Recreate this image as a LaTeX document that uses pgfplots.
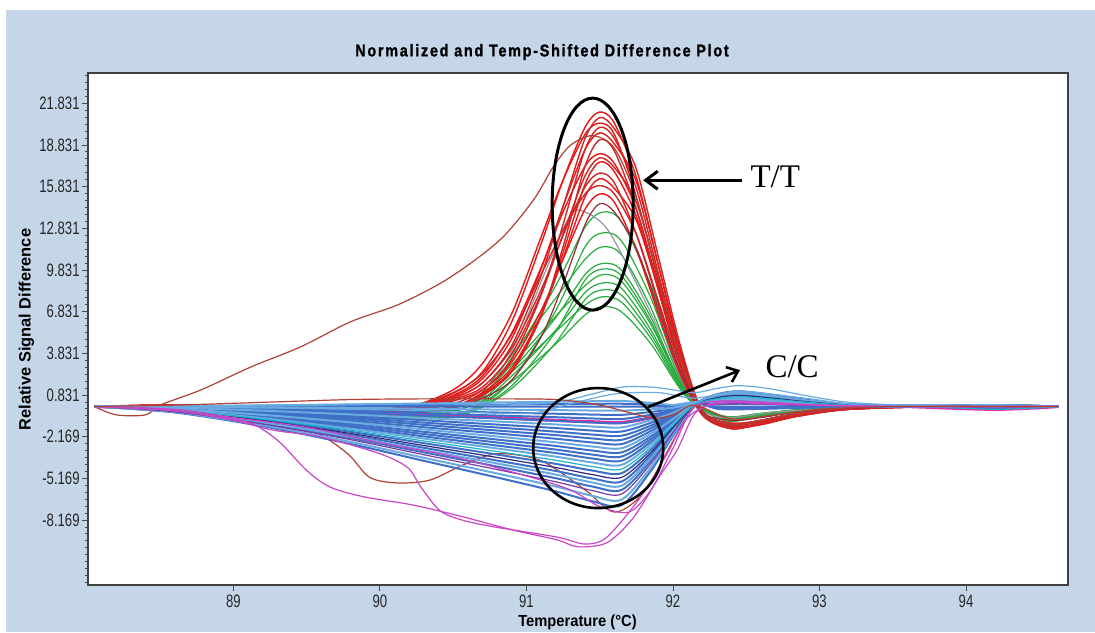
\documentclass[border=0pt]{standalone}
\usepackage{fontspec}
\usepackage{pgfplots}
\pgfplotsset{compat=1.18}
\usepackage{pgfplotstable}
\usetikzlibrary{arrows.meta}

\newfontfamily\narrowfont[FakeStretch=0.73]{Liberation Sans}
\newfontfamily\titlefont[FakeStretch=0.85,LetterSpace=10,BoldFeatures={FakeBold=1.2}]{Liberation Sans}
\newfontfamily\labelfont{Liberation Sans}
\newfontfamily\xlabfont[FakeStretch=0.92]{Liberation Sans}
\newfontfamily\annfont{Liberation Serif}

\definecolor{panel}{RGB}{196,214,232}
\definecolor{tred}{RGB}{234,22,22}
\definecolor{tred2}{RGB}{208,38,38}
\definecolor{dred}{RGB}{150,45,60}
\definecolor{hgreen}{RGB}{40,170,60}
\definecolor{cblue}{RGB}{62,112,200}
\definecolor{lblue}{RGB}{105,170,225}
\definecolor{navy}{RGB}{45,40,120}
\definecolor{purp}{RGB}{120,60,160}
\definecolor{cyanx}{RGB}{30,180,200}
\definecolor{magx}{RGB}{200,70,200}
\definecolor{brownx}{RGB}{175,65,55}
\definecolor{pinkx}{RGB}{235,40,160}
\definecolor{grayx}{RGB}{150,150,165}

\pgfplotsset{
  curve/.style={line width=0.6pt, smooth, mark=none},
  band/.style={line width=1.0pt, smooth, mark=none},
}

% T/T samples (red)
\pgfplotstableread{
x r1 r2 r3 r4 r5 r6 r7 r8 r9 r10 r11 r12 r13 r14
88.05 0 0 0 0 0 0 0 0 0 0 0 0 0 0
88.6 0.0 0.1 -0.1 0.0 0.1 -0.1 0.0 0.1 0.0 -0.1 0.1 0.0 -0.1 0.0
89.2 -0.2 -0.1 -0.3 -0.4 0.0 -0.5 -0.2 -0.1 -0.3 -0.2 -0.4 -0.1 -0.3 -0.4
89.8 -0.3 -0.4 -0.2 -0.6 -0.2 -0.8 -0.3 -0.5 -0.7 -0.4 -0.6 -0.3 -0.5 -0.7
90.2 -0.1 -0.2 0.0 -0.3 -0.2 -0.5 -0.1 -0.3 -0.5 -0.2 -0.4 0.0 -0.3 -0.5
90.5 0.95 0.6 1.2 0.2 0.7 -0.1 0.8 0.5 0.0 0.6 0.0 1.0 0.4 -0.1
90.7 2.5 1.7 3.1 1.2 2.0 0.8 2.2 1.4 0.9 1.7 1.0 2.4 1.2 0.6
90.9 6.1 4.4 6.7 3.4 4.9 2.5 5.3 3.8 2.6 4.2 2.8 5.2 3.2 1.9
91.1 11.7 9.4 12.2 8.0 9.9 6.5 10.0 8.1 6.5 8.4 6.6 9.5 6.9 5.0
91.25 16.3 14.4 16.3 13.1 14.4 11.5 14.0 12.4 11.1 12.3 10.7 12.7 10.6 8.8
91.4 20.1 19.3 19.6 18.5 18.5 17.3 17.3 16.6 16.0 15.8 15.1 15.3 14.2 13.1
91.5 21.2 20.8 20.4 20.1 19.7 19.2 18.2 17.9 17.6 16.8 16.4 15.9 15.3 14.6
91.6 20.4 20.0 19.6 19.3 18.9 18.4 17.5 17.2 16.9 16.1 15.7 15.3 14.7 14.0
91.75 16.5 17.1 15.1 15.7 16.2 14.2 14.2 14.7 13.7 12.4 13.4 12.4 11.3 11.4
91.9 10.2 10.8 9.0 9.6 10.2 8.4 8.7 9.3 8.4 7.4 8.5 7.6 6.7 7.0
92.05 3.8 4.4 3.1 3.6 4.1 2.9 3.3 3.8 3.2 2.5 3.4 2.9 2.3 2.6
92.2 -0.5 -0.3 -0.6 -0.4 -0.3 -0.6 -0.4 -0.3 -0.5 -0.6 -0.3 -0.4 -0.5 -0.4
92.4 -1.6 -1.5 -1.4 -1.3 -1.5 -1.6 -1.2 -1.4 -1.3 -1.4 -1.5 -1.2 -1.3 -1.0
92.6 -1.2 -1.2 -1.0 -1.1 -1.3 -1.2 -1.0 -1.2 -1.1 -1.0 -1.3 -1.0 -1.0 -0.8
92.85 -0.6 -0.7 -0.5 -0.6 -0.7 -0.5 -0.5 -0.6 -0.6 -0.5 -0.7 -0.5 -0.5 -0.4
93.2 -0.2 -0.2 -0.1 -0.2 -0.2 -0.1 -0.1 -0.2 -0.1 -0.1 -0.2 -0.1 -0.1 -0.1
93.8 0 0 0 0 0 0 0 0 0 0 0 0 0 0
94.3 0 0.1 0 0 0.1 0 0 0 0 0 0 0 0 0
94.63 0 0 0 0 0 0 0 0 0 0 0 0 0 0
}\redtab

% intermediate group (green)
\pgfplotstableread{
x g1 g2 g3 g4 g5 g6 g7 g8 g9 g10
88.05 0 0 0 0 0 0 0 0 0 0
88.6 0.0 -0.1 0.0 0.0 -0.1 0.0 0.0 -0.1 0.0 0.0
89.2 -0.3 -0.4 -0.2 -0.3 -0.5 -0.2 -0.3 -0.4 -0.2 -0.3
89.8 -0.5 -0.7 -0.4 -0.6 -0.8 -0.3 -0.5 -0.7 -0.4 -0.6
90.3 -0.6 -0.8 -0.4 -0.7 -0.9 -0.3 -0.6 -0.8 -0.4 -0.7
90.6 -0.4 -0.5 0.0 -0.4 -0.5 0.0 -0.4 -0.5 0.0 -0.4
90.9 3.5 1.9 3.7 2.6 1.5 3.0 2.2 1.3 2.5 1.8
91.2 8.7 6.9 7.8 6.4 5.4 6.5 5.5 4.6 5.4 4.5
91.4 12.9 11.5 10.6 9.5 9.1 8.7 8.2 7.7 7.3 6.6
91.52 14.0 12.5 11.5 10.3 9.9 9.5 8.9 8.4 7.9 7.2
91.65 13.3 11.9 10.9 9.8 9.4 9.0 8.5 8.0 7.5 6.8
91.85 8.7 7.8 7.1 6.4 6.1 5.9 5.5 5.2 4.9 4.5
92.1 1.1 1.0 0.9 0.8 0.8 0.8 0.7 0.7 0.6 0.6
92.35 -0.9 -1.0 -0.8 -0.9 -1.0 -0.7 -0.8 -0.9 -0.7 -0.8
92.6 -0.6 -0.7 -0.5 -0.6 -0.7 -0.5 -0.6 -0.6 -0.5 -0.6
92.9 -0.3 -0.3 -0.2 -0.3 -0.3 -0.2 -0.3 -0.3 -0.2 -0.3
93.3 -0.1 -0.1 -0.1 -0.1 -0.1 0 -0.1 -0.1 0 -0.1
93.8 0 0 0 0 0 0 0 0 0 0
94.3 0 0 0 0 0 0 0 0 0 0
94.63 0 0 0 0 0 0 0 0 0 0
}\greentab

% C/C samples (blue band)
\pgfplotstableread{
x b1 b2 b3 b4 b5 b6 b7 b8 b9 b10 b11 b12 b13 b14 b15 b16 b17 b18 b19 b20 b21 b22 b23 b24 b25 b26
88.05 0 0 0 0 0 0 0 0 0 0 0 0 0 0 0 0 0 0 0 0 0 0 0 0 0 0
88.6 0.02 0.01 0 -0.02 -0.04 -0.05 -0.07 -0.09 -0.11 -0.13 -0.14 -0.16 -0.18 -0.2 -0.22 -0.23 -0.25 -0.27 -0.29 -0.31 -0.32 -0.34 -0.36 -0.38 -0.4 -0.43
89.2 0.08 0.04 0 -0.06 -0.12 -0.18 -0.24 -0.3 -0.36 -0.42 -0.48 -0.54 -0.6 -0.66 -0.72 -0.78 -0.84 -0.9 -0.96 -1.02 -1.08 -1.14 -1.2 -1.26 -1.34 -1.42
89.8 0.15 0.08 0 -0.11 -0.23 -0.34 -0.46 -0.57 -0.68 -0.8 -0.91 -1.03 -1.14 -1.25 -1.37 -1.48 -1.6 -1.71 -1.82 -1.94 -2.05 -2.17 -2.28 -2.39 -2.55 -2.7
90.3 0.22 0.11 0 -0.17 -0.33 -0.5 -0.66 -0.83 -0.99 -1.16 -1.32 -1.49 -1.65 -1.82 -1.98 -2.15 -2.31 -2.48 -2.64 -2.81 -2.97 -3.14 -3.3 -3.47 -3.69 -3.91
90.8 0.29 0.14 0 -0.22 -0.43 -0.65 -0.86 -1.08 -1.3 -1.51 -1.73 -1.94 -2.16 -2.38 -2.59 -2.81 -3.02 -3.24 -3.46 -3.67 -3.89 -4.1 -4.32 -4.54 -4.82 -5.11
91.2 0.34 0.17 0 -0.26 -0.52 -0.77 -1.03 -1.29 -1.55 -1.81 -2.06 -2.32 -2.58 -2.84 -3.1 -3.35 -3.61 -3.87 -4.13 -4.39 -4.64 -4.9 -5.16 -5.42 -5.76 -6.11
91.45 0.38 0.19 0 -0.29 -0.58 -0.86 -1.15 -1.44 -1.73 -2.02 -2.3 -2.59 -2.88 -3.17 -3.46 -3.74 -4.03 -4.32 -4.61 -4.9 -5.18 -5.47 -5.76 -6.05 -6.43 -6.82
91.65 0.4 0.2 0 -0.3 -0.6 -0.9 -1.2 -1.5 -1.8 -2.1 -2.4 -2.7 -3.0 -3.3 -3.6 -3.9 -4.2 -4.5 -4.8 -5.1 -5.4 -5.7 -6.0 -6.3 -6.7 -7.1
91.85 0.26 0.13 0 -0.2 -0.39 -0.59 -0.78 -0.98 -1.17 -1.37 -1.56 -1.76 -1.95 -2.15 -2.34 -2.54 -2.73 -2.93 -3.12 -3.32 -3.51 -3.71 -3.9 -4.1 -4.36 -4.62
92.0 0.12 0.06 0 -0.09 -0.18 -0.27 -0.36 -0.45 -0.54 -0.63 -0.72 -0.81 -0.9 -0.99 -1.08 -1.17 -1.26 -1.35 -1.44 -1.53 -1.62 -1.71 -1.8 -1.89 -2.01 -2.13
92.15 0.32 0.31 0.3 0.29 0.28 0.26 0.25 0.24 0.23 0.22 0.2 0.19 0.18 0.17 0.16 0.14 0.13 0.12 0.11 0.1 0.08 0.07 0.06 0.05 0.03 0.02
92.3 0.24 0.48 -0.16 0.72 0.4 0.8 0.16 0.56 0.88 0.32 0.64 0 0.48 0.8 0.24 0.72 0.4 0.56 -0.08 0.64 0.32 0.8 0.48 0.16 0.72 0.4
92.45 0.3 0.6 -0.2 0.9 0.5 1.0 0.2 0.7 1.1 0.4 0.8 0 0.6 1.0 0.3 0.9 0.5 0.7 -0.1 0.8 0.4 1.0 0.6 0.2 0.9 0.5
92.65 0.24 0.48 -0.16 0.72 0.4 0.8 0.16 0.56 0.88 0.32 0.64 0 0.48 0.8 0.24 0.72 0.4 0.56 -0.08 0.64 0.32 0.8 0.48 0.16 0.72 0.4
92.9 0.14 0.27 -0.09 0.41 0.23 0.45 0.09 0.32 0.5 0.18 0.36 0 0.27 0.45 0.14 0.41 0.23 0.32 -0.05 0.36 0.18 0.45 0.27 0.09 0.41 0.23
93.2 0.05 0.09 -0.03 0.14 0.08 0.15 0.03 0.11 0.17 0.06 0.12 0 0.09 0.15 0.05 0.14 0.08 0.11 -0.02 0.12 0.06 0.15 0.09 0.03 0.14 0.08
93.6 0.05 0.05 0 0.05 0.05 0.05 0 0.05 0.05 0 0.05 0 0.05 0.05 0 0.05 0 0.05 0 0.05 0 0.05 0.05 0 0.05 0
94.2 0 0 0 0.1 0 -0.1 0 0 0.1 0 0 -0.1 0 0 0 0.1 0 -0.2 0 0 0.1 0 0 -0.1 0 0
94.63 0 0 0 0 0 0 0 0 0 0 0 0 0 0 0 0 0 0 0 0 0 0 0 0 0 0
}\bluetab

\begin{document}
\begin{tikzpicture}
\useasboundingbox (0pt,0pt) rectangle (547.5pt,316pt);
\fill[white] (0pt,0pt) rectangle (547.5pt,316pt);
\fill[panel] (3pt,0pt) rectangle (547.5pt,311pt);

\begin{axis}[
  at={(44pt,23.5pt)}, anchor=south west,
  scale only axis, width=490pt, height=256pt,
  xmin=88.008, xmax=94.696, ymin=-12.85, ymax=24.01,
  axis background/.style={fill=white},
  axis line style={draw=black!75, line width=0.6pt},
  tick pos=left, tick align=outside,
  major tick length=3pt, minor tick length=1.6pt,
  tick style={black!70, line width=0.4pt},
  xtick={89,90,91,92,93,94},
  xticklabels={89,90,91,92,93,94},
  ytick={-8.169,-5.169,-2.169,0.831,3.831,6.831,9.831,12.831,15.831,18.831,21.831},
  yticklabels={-8.169,-5.169,-2.169,0.831,3.831,6.831,9.831,12.831,15.831,18.831,21.831},
  minor ytick={-12.669,-12.169,...,23.831},
  tick label style={font=\narrowfont\fontsize{9}{10}\selectfont, text=black!85},
  xticklabel style={yshift=1.5pt},
  yticklabel style={inner xsep=1pt},
]

\pgfplotsinvokeforeach{g1,g2,g3,g4,g5,g6,g7,g8,g9,g10}{
  \addplot[curve, hgreen] table[x=x, y=#1] {\greentab};
}
\addplot[curve, grayx, smooth=false] coordinates {(88.05,0) (89.0,-0.2) (90.0,-0.5) (90.6,-0.3) (90.9,4.0) (91.14,10.0) (91.3,13.8) (91.4,14.0) (91.55,12.8) (91.73,9.3) (91.95,4.5) (92.15,0.2) (92.35,-0.8) (92.7,-0.4) (93.2,-0.1) (93.8,0) (94.63,0)};
\pgfplotsinvokeforeach{r1,r3,r5,r7,r9,r11,r13}{
  \addplot[curve, tred, line width=0.7pt] table[x=x, y=#1] {\redtab};
}
\pgfplotsinvokeforeach{r2,r4,r6,r8,r10,r12}{
  \addplot[curve, tred2, line width=0.7pt] table[x=x, y=#1] {\redtab};
}
\addplot[curve, dred] table[x=x, y=r14] {\redtab};
% outlier rising early
\addplot[curve, brownx] coordinates {(88.05,0) (88.2,-0.6) (88.4,-0.6) (88.5,0.1) (88.78,1.2) (89.12,2.85) (89.46,4.3) (89.8,6.1) (90.14,7.4) (90.48,9.3) (90.82,12.0) (91.05,14.9) (91.18,17.2) (91.3,18.8) (91.45,19.5) (91.6,18.6) (91.75,15.0) (91.9,9.2) (92.05,3.4) (92.2,-0.4) (92.4,-1.3) (92.6,-1.0) (92.85,-0.5) (93.2,-0.1) (93.8,0) (94.63,0)};
% curves mostly hidden inside the band
\addplot[curve, pinkx, line width=1.6pt] coordinates {(88.05,0) (88.6,-0.15) (89.2,-0.3) (89.8,-0.45) (90.3,-0.6) (90.8,-0.8) (91.2,-1.0) (91.45,-1.1) (91.65,-1.15) (91.85,-0.8) (92.0,-0.3) (92.15,0.2) (92.45,0.5) (92.9,0.2) (93.6,0) (94.2,-0.2) (94.63,0)};
\addplot[curve, brownx] coordinates {(88.05,0) (88.6,-0.2) (89.2,-0.8) (89.55,-1.8) (89.78,-3.4) (89.93,-5.1) (90.12,-5.5) (90.34,-5.3) (90.57,-4.2) (90.8,-3.4) (91.1,-3.9) (91.4,-6.0) (91.6,-7.6) (91.8,-6.2) (92.0,-2.5) (92.15,0) (92.4,0.4) (92.8,0.2) (93.4,0) (94.63,0)};

\pgfplotsinvokeforeach{b2,b3,b5,b6,b7,b9,b10,b11,b12,b14,b15,b16,b19,b21,b23,b26}{
  \addplot[band, cblue] table[x=x, y=#1] {\bluetab};
}
\pgfplotsinvokeforeach{b1,b4,b8,b13,b17,b22,b25}{
  \addplot[band, lblue] table[x=x, y=#1] {\bluetab};
}
\addplot[band, navy, line width=0.6pt] table[x=x, y=b20] {\bluetab};
\addplot[band, purp, line width=0.6pt] table[x=x, y=b24] {\bluetab};
\addplot[band, cyanx, line width=0.6pt] table[x=x, y=b18] {\bluetab};
\addplot[curve, lblue] coordinates {(88.05,0) (89.2,0.1) (90.3,0.2) (90.8,0.1) (91.2,0.3) (91.45,0.9) (91.65,1.4) (91.85,1.4) (92.0,1.2) (92.15,1.0) (92.3,1.3) (92.45,1.5) (92.65,1.3) (92.9,0.8) (93.2,0.3) (93.6,0.1) (94.2,0) (94.63,0)};
\addplot[curve, lblue] coordinates {(88.05,0) (89.2,-0.1) (90.3,-0.3) (91.0,-0.5) (91.3,0.2) (91.6,0.9) (91.9,1.0) (92.15,0.6) (92.45,1.1) (92.9,0.6) (93.3,0.1) (94.0,0) (94.63,0)};

% low outliers
\addplot[curve, magx] coordinates {(88.05,0) (88.6,-0.3) (89.0,-0.9) (89.16,-1.4) (89.32,-2.6) (89.5,-4.6) (89.66,-5.8) (89.89,-6.5) (90.23,-7.1) (90.57,-7.95) (90.91,-8.9) (91.21,-9.6) (91.35,-10.1) (91.55,-9.8) (91.73,-8.0) (91.91,-5.0) (92.03,-3.1) (92.15,-0.5) (92.3,0.2) (92.6,0.3) (93.0,0.1) (93.6,0) (94.63,0)};
\addplot[curve, magx] coordinates {(88.05,0) (88.6,-0.3) (89.0,-1.0) (89.27,-1.7) (89.6,-2.2) (90.0,-3.4) (90.19,-4.4) (90.28,-5.8) (90.41,-7.5) (90.57,-8.2) (90.8,-8.7) (91.21,-9.4) (91.4,-9.9) (91.55,-9.4) (91.78,-6.5) (91.96,-3.4) (92.1,-0.8) (92.3,0.3) (92.6,0.2) (93.0,0.1) (93.6,0) (94.63,0)};
\addplot[curve, magx] coordinates {(88.05,0) (88.6,-0.2) (89.0,-0.8) (89.5,-1.5) (90.0,-2.6) (90.5,-3.6) (91.0,-5.0) (91.3,-6.0) (91.5,-7.2) (91.7,-7.6) (91.85,-6.0) (92.0,-3.0) (92.15,0) (92.4,0.4) (92.8,0.2) (93.4,0) (94.63,0)};
\addplot[curve, brownx] coordinates {(88.05,0) (88.6,0.1) (89.2,0.3) (89.8,0.5) (90.3,0.55) (90.8,0.55) (91.2,0.5) (91.5,0.1) (91.85,-0.8) (92.0,-0.6) (92.15,0.1) (92.4,-0.9) (92.7,-0.6) (93.0,-0.2) (93.5,0) (94.63,0)};

% annotations
\draw[line width=1.5pt] (axis cs:91.452,14.57) ellipse [x radius=20.25pt, y radius=53pt];
\draw[line width=1.3pt] (axis cs:91.49,-2.99) ellipse [x radius=32.5pt, y radius=30pt];
\draw[line width=1.5pt, -{Straight Barb[length=6pt,width=9pt]}] (axis cs:92.472,16.29) -- (axis cs:91.797,16.29);
\draw[line width=1.3pt, -{Straight Barb[length=5pt,width=8pt]}] (axis cs:91.831,-0.04) -- (axis cs:92.458,2.62);
\node[anchor=base west, inner sep=0pt, font=\annfont\fontsize{16.5}{18}\selectfont] at (axis cs:92.527,15.79) {T/T};
\node[anchor=base west, inner sep=0pt, font=\annfont\fontsize{16.5}{18}\selectfont] at (axis cs:92.629,2.12) {C/C};
\end{axis}

\node[font=\titlefont\bfseries\fontsize{8.5}{9}\selectfont] at (271pt,290pt) {Normalized and Temp-Shifted Difference Plot};
\node[rotate=90, font=\labelfont\bfseries\fontsize{8.2}{9}\selectfont] at (13.25pt,151.25pt) {Relative Signal Difference};
\node[font=\xlabfont\bfseries\fontsize{8}{9}\selectfont] at (288.75pt,5pt) {Temperature (°C)};
\end{tikzpicture}
\end{document}
